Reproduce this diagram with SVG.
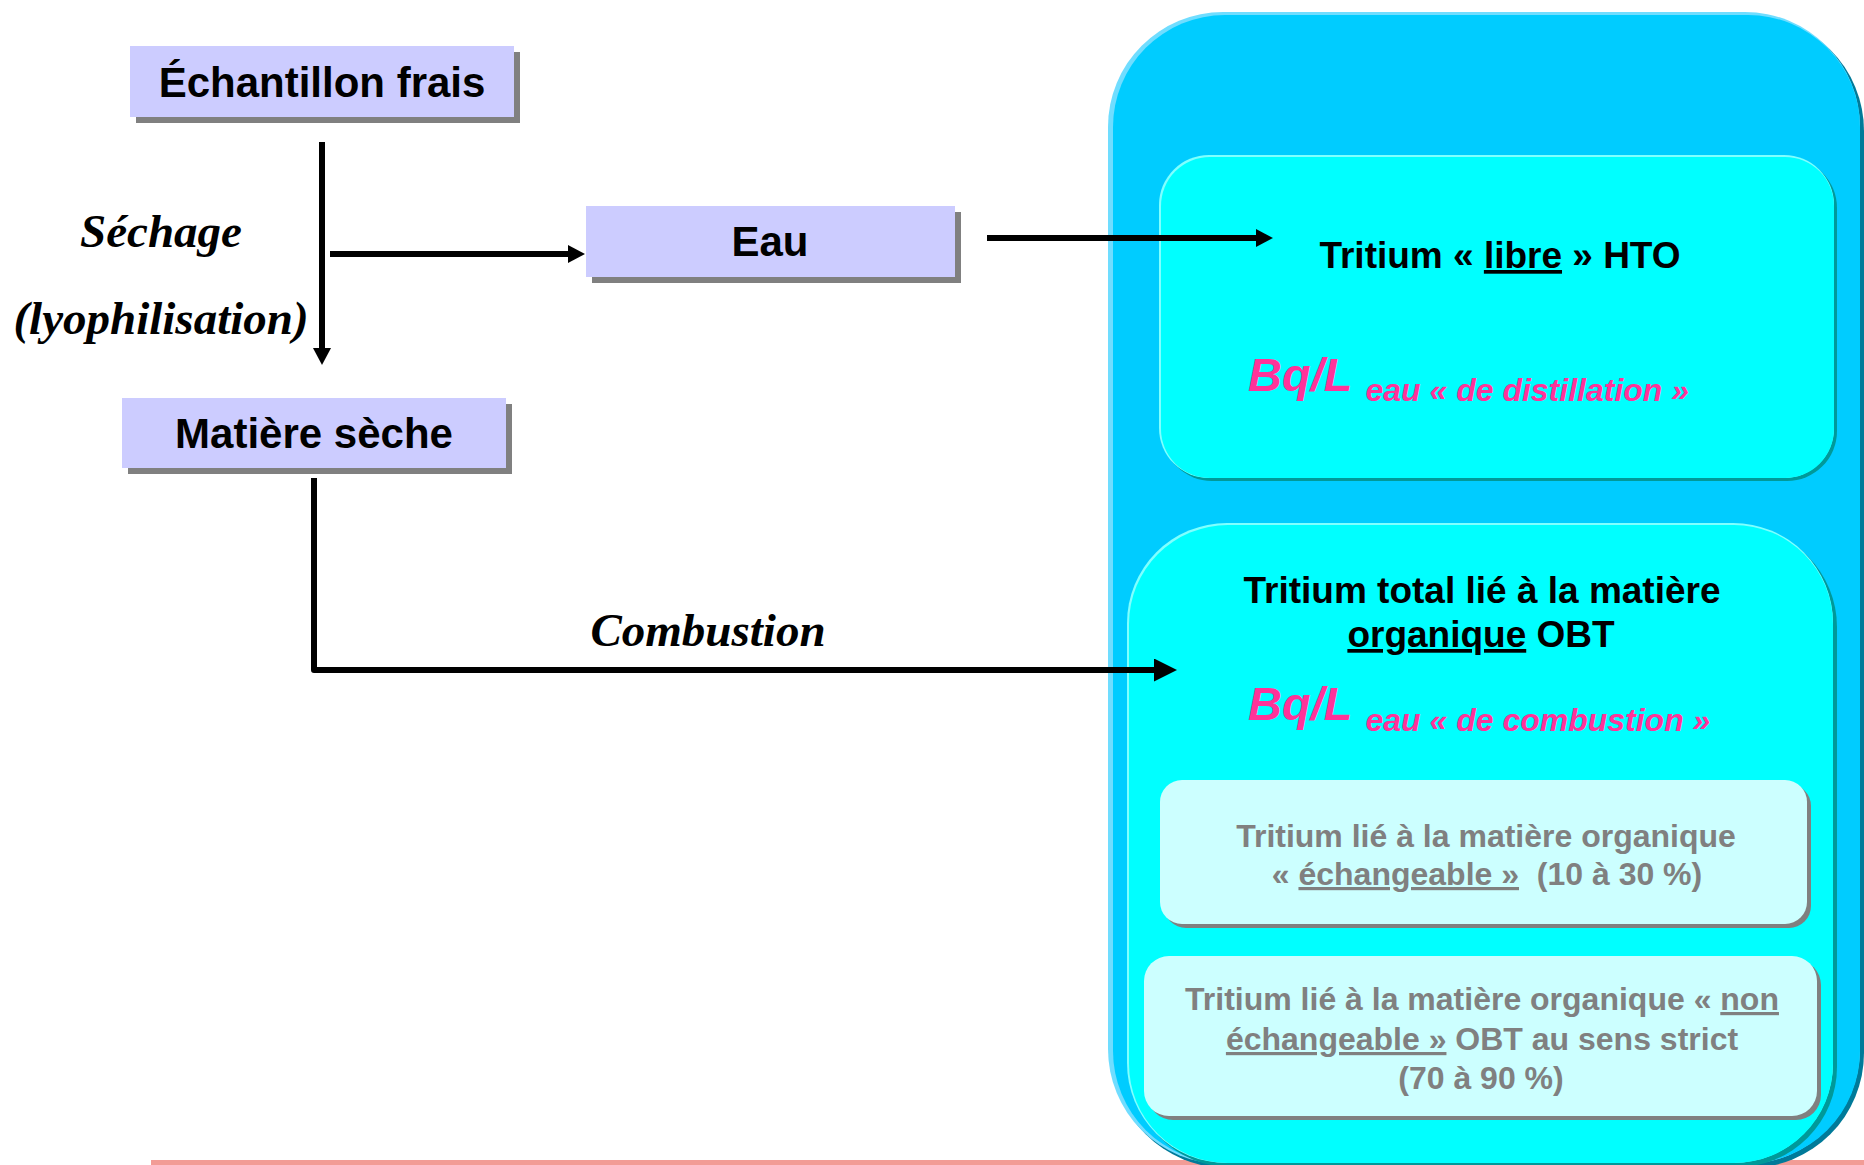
<svg xmlns="http://www.w3.org/2000/svg" width="1864" height="1165" viewBox="0 0 1864 1165">
<defs>
<marker id="ah" markerUnits="userSpaceOnUse" viewBox="0 0 17 18" refX="0" refY="9" markerWidth="17" markerHeight="18" orient="auto"><path d="M0,0 L17,9 L0,18 Z" fill="#000"/></marker>
<marker id="ahL" markerUnits="userSpaceOnUse" viewBox="0 0 23 23" refX="0" refY="11.5" markerWidth="23" markerHeight="23" orient="auto"><path d="M0,0 L23,11.5 L0,23 Z" fill="#000"/></marker>
</defs>
<style>
.box{fill:#CCCCFF}
.shadow{fill:#808080}
.sans{font-family:"Liberation Sans",Arial,sans-serif;font-weight:bold}
.lbl{font-size:42px;fill:#000;text-anchor:middle}
.proc{font-family:"Liberation Serif","Times New Roman",serif;font-weight:bold;font-style:italic;font-size:47px;fill:#000;text-anchor:middle}
.conn{fill:none;stroke:#000;stroke-width:6}
.t37{font-size:37px;fill:#000;text-anchor:middle}
.t32g{font-size:32px;fill:#808080;text-anchor:middle}
.unit{font-style:italic;fill:#FF3399}
.u{text-decoration:underline}
.cyanShadow{fill:#009999}
.cyanLight{fill:#80FFFF}
.cyan{fill:#00FFFF}
.pale{fill:#CCFFFF}
</style>
<rect x="0" y="0" width="1864" height="1165" fill="#FFFFFF"/>
<rect id="footer-line" x="151" y="1160" width="1713" height="5" fill="#F29C96"/>

<g id="panel">
<rect x="1112" y="16" width="752" height="1152" rx="115" fill="#007A99"/>
<rect x="1108" y="12" width="752" height="1152" rx="115" fill="#70DDFF"/>
<rect x="1113" y="15" width="747" height="1148" rx="112" fill="#00CCFF"/>
</g>

<g id="n-hto">
<rect class="cyanShadow" x="1162" y="158" width="675" height="323" rx="50"/>
<rect class="cyanLight" x="1159" y="155" width="675" height="323" rx="50"/>
<rect class="cyan" x="1161" y="157" width="673" height="321" rx="49"/>
<text class="sans t37" x="1500" y="268">Tritium « <tspan class="u">libre</tspan> » HTO</text>
<text class="sans unit" x="1248" y="391"><tspan font-size="47px">Bq/L</tspan><tspan font-size="32px" dx="13" dy="10">eau « de distillation »</tspan></text>
</g>

<g id="n-obt">
<rect class="cyanShadow" x="1131" y="527" width="706" height="640" rx="100"/>
<rect class="cyanLight" x="1127" y="523" width="706" height="640" rx="100"/>
<rect class="cyan" x="1129" y="525" width="704" height="638" rx="99"/>
<text class="sans t37" x="1482" y="603">Tritium total lié à la matière</text>
<text class="sans t37" x="1481" y="647"><tspan class="u">organique</tspan> OBT</text>
<text class="sans unit" x="1248" y="720"><tspan font-size="47px">Bq/L</tspan><tspan font-size="32px" dx="13" dy="11">eau « de combustion »</tspan></text>
</g>

<g id="n-echangeable">
<rect class="shadow" x="1164" y="784" width="647" height="144" rx="22"/>
<rect class="pale" x="1160" y="780" width="647" height="144" rx="22"/>
<text class="sans t32g" x="1486" y="847">Tritium lié à la matière organique</text>
<text class="sans t32g" x="1487" y="885" xml:space="preserve">« <tspan class="u">échangeable »</tspan>  (10 à 30 %)</text>
</g>

<g id="n-nonechangeable">
<rect class="shadow" x="1148" y="960" width="673" height="160" rx="25"/>
<rect class="pale" x="1144" y="956" width="673" height="160" rx="25"/>
<text class="sans t32g" x="1482" y="1010">Tritium lié à la matière organique « <tspan class="u">non</tspan></text>
<text class="sans t32g" x="1482" y="1050"><tspan class="u">échangeable »</tspan> OBT au sens strict</text>
<text class="sans t32g" x="1481" y="1089">(70 à 90 %)</text>
</g>

<g id="n-echantillon">
<rect class="shadow" x="136" y="52" width="384" height="71"/>
<rect class="box" x="130" y="46" width="384" height="71"/>
<text class="sans lbl" x="322" y="97">Échantillon frais</text>
</g>

<g id="n-eau">
<rect class="shadow" x="592" y="212" width="369" height="71"/>
<rect class="box" x="586" y="206" width="369" height="71"/>
<text class="sans lbl" x="770" y="256">Eau</text>
</g>

<g id="n-matiere">
<rect class="shadow" x="128" y="404" width="384" height="70"/>
<rect class="box" x="122" y="398" width="384" height="70"/>
<text class="sans lbl" x="314" y="448">Matière sèche</text>
</g>

<g id="connectors">
<path class="conn" stroke-width="5" d="M322,142 L322,348" marker-end="url(#ah)"/>
<path class="conn" d="M330,254 L568,254" marker-end="url(#ah)"/>
<path class="conn" d="M987,238 L1256,238" marker-end="url(#ah)"/>
<path class="conn" stroke-width="7" stroke-linejoin="round" d="M314,478 L314,670 L1154,670" marker-end="url(#ahL)"/>
<text class="proc" x="161" y="247">Séchage</text>
<text class="proc" x="161" y="334">(lyophilisation)</text>
<text class="proc" x="708" y="646">Combustion</text>
</g>
</svg>
